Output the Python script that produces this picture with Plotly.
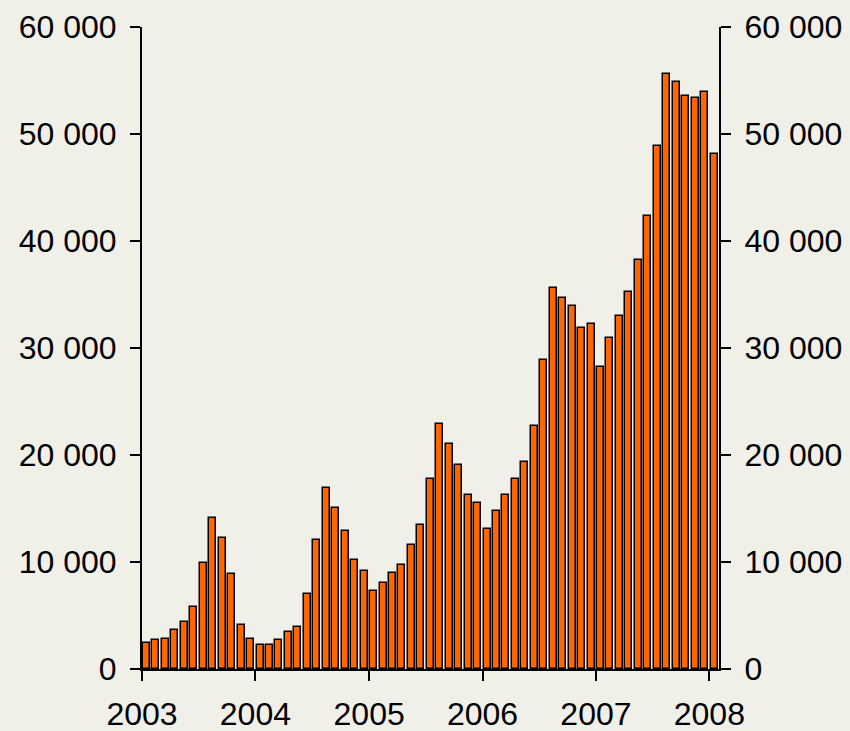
import plotly.graph_objects as go

# monthly values, Jan 2003 .. Jan 2008
months = [f"{y}-{m:02d}-01" for y in range(2003, 2008) for m in range(1, 13)] + ["2008-01-01"]
values = [
    2450, 2680, 2830, 3600, 4360, 5830, 9940, 14080, 12200, 8850, 4140, 2830,   # 2003
    2270, 2270, 2680, 3430, 3960, 6980, 12030, 16890, 15020, 12930, 10160, 9190,  # 2004
    7320, 8070, 9000, 9750, 11620, 13490, 17790, 22870, 21000, 19100, 16290, 15540,  # 2005
    13110, 14800, 16290, 17790, 19320, 22680, 28900, 35580, 34640, 33900, 31840, 32200,  # 2006
    28250, 30900, 32960, 35200, 38200, 42300, 48850, 55580, 54830, 53520, 53340, 53900,  # 2007
    48100,  # 2008
]
y_ticks = [0, 10000, 20000, 30000, 40000, 50000, 60000]
y_labels = ["0", "10 000", "20 000", "30 000", "40 000", "50 000", "60 000"]
year_ticks = ["2003-01-01", "2004-01-01", "2005-01-01", "2006-01-01", "2007-01-01", "2008-01-01"]
year_labels = ["2003", "2004", "2005", "2006", "2007", "2008"]

BG = "#F0EFE8"
month_ms = 30.44 * 24 * 3600 * 1000

fig = go.Figure()
fig.add_trace(go.Bar(
    x=months, y=values,
    xperiod="M1", xperiodalignment="middle",
    width=0.74 * month_ms,
    marker=dict(color="#FF6600", line=dict(color="black", width=1.5)),
    showlegend=False,
))
# invisible trace so the right axis is drawn
fig.add_trace(go.Scatter(x=[months[0]], y=[0], yaxis="y2", mode="markers",
                         marker=dict(opacity=0), hoverinfo="skip", showlegend=False))

axis_common = dict(showline=True, linecolor="black", linewidth=2,
                   ticks="outside", ticklen=10, tickwidth=2, tickcolor="black",
                   showgrid=False, zeroline=False, range=[0, 60000],
                   tickvals=y_ticks, ticktext=y_labels)

# page body has an 8px margin, so margins are shifted by 8px
fig.update_layout(
    width=850, height=731,
    margin=dict(l=134, r=139, t=19, b=70, autoexpand=False),
    paper_bgcolor=BG, plot_bgcolor=BG,
    font=dict(family="Liberation Sans, Arial", size=32, color="black"),
    bargap=0,
    xaxis=dict(type="date", range=["2003-01-01", "2008-02-01"],
               tickvals=year_ticks, ticktext=year_labels,
               showline=True, linecolor="black", linewidth=2,
               ticks="outside", ticklen=10, tickwidth=2, tickcolor="black",
               showgrid=False, zeroline=False, ticklabelstandoff=6),
    yaxis=dict(**axis_common, side="left", ticklabelstandoff=7),
    yaxis2=dict(**axis_common, side="right", overlaying="y", ticklabelstandoff=7),
)

fig.write_html("out.html",
               post_script=f"document.body.style.background='{BG}';document.body.style.overflow='hidden';")
